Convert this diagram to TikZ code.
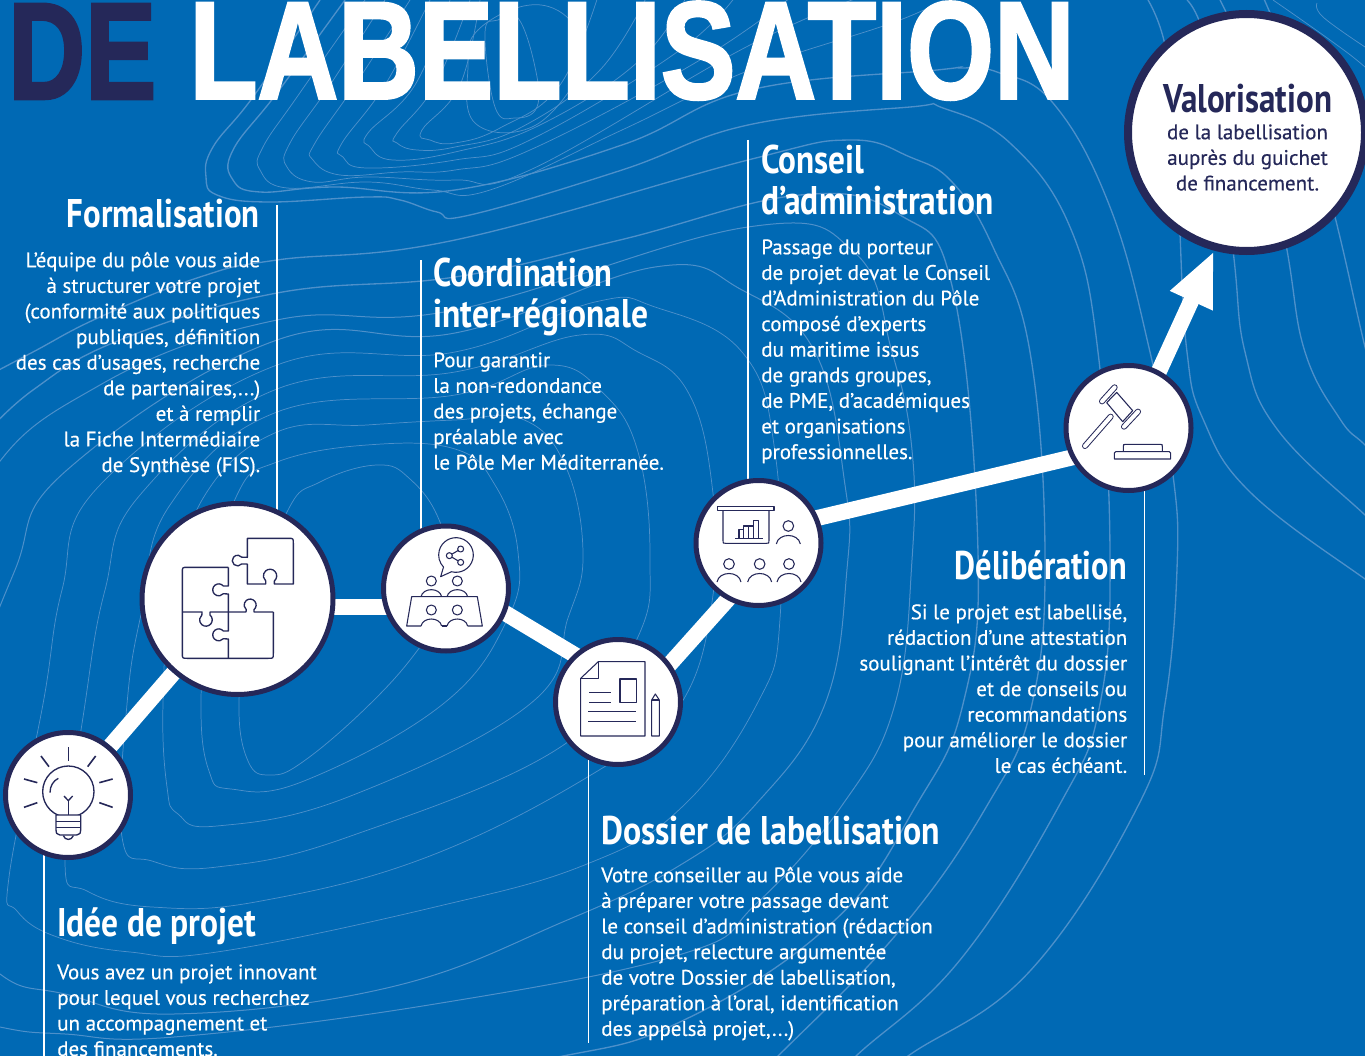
\documentclass[tikz,border=0pt]{standalone}
\usepackage{graphicx}
\usepackage{fontspec}
\setmainfont{PT Sans}
\newfontfamily\bodyf[FakeBold=0.4]{PT Sans}
\newfontfamily\titlef[FakeBold=2.2]{Liberation Sans Bold}
\usetikzlibrary{calc,backgrounds,arrows.meta}
\definecolor{bgblue}{HTML}{0069B4}
\definecolor{navy}{HTML}{252859}
\definecolor{ctc}{HTML}{4D90CA}
\newcommand\fr{\rule{0pt}{14pt}}
\newcommand\hd[2]{\resizebox{\dimexpr #1pt*3/4\relax}{\height}{#2}}
\tikzset{
  x=.75pt,y=-.75pt,
  ct/.style={draw=ctc,line width=.55pt},
  ctm/.style={draw=ctc,line width=.75pt},
  ctb/.style={draw=ctc,line width=1pt},
  guide/.style={draw=white,line width=.8pt},
  link/.style={draw=white,line width=12pt},
  stepc/.style={circle,draw=navy,fill=white,line width=3.75pt,inner sep=0pt},
  bodytext/.style={font=\bodyf\fontsize{15.75}{19.2}\selectfont,inner sep=0pt,text=white},
  bodyl/.style={bodytext,align=left,anchor=north west},
  bodyr/.style={bodytext,align=right,anchor=north east},
  headt/.style={font=\fontsize{30}{36}\selectfont\bfseries,inner sep=0pt,text=white},
  ic/.style={draw=navy,line width=1pt,line join=round},
  z/.style={shift={(#1)},x=.25pt,y=-.25pt},
}
\begin{document}
\begin{tikzpicture}
\useasboundingbox (0,0) rectangle (1365,1056);
% step circles
\node[stepc,minimum size=93.75pt] (c0) at (68,795) {};
\node[stepc,minimum size=143.25pt] (c1) at (237.5,599) {};
\node[stepc,minimum size=93.75pt] (c2) at (446,588.5) {};
\node[stepc,minimum size=93.75pt] (c3) at (618,702) {};
\node[stepc,minimum size=93.75pt] (c4) at (758.5,543) {};
\node[stepc,minimum size=93.75pt] (c5) at (1128.5,428) {};
\node[stepc,minimum size=177.75pt,line width=6pt] (c6) at (1246.5,132.5) {};
\coordinate (g1) at (277,205);
\coordinate (g2) at (421,260);
\coordinate (g3) at (748,140);
\coordinate (g4) at (44,1056);
\coordinate (g5) at (588.5,1043);
\coordinate (g6) at (1144.5,775);
\begin{scope}[on background layer]
\fill[bgblue] (0,0) rectangle (1365,1056);
\begin{scope}
\clip (0,0) rectangle (1365,1056);
% central loops
\draw[ct] plot[smooth cycle,tension=.7] coordinates {(287,512)(320,482)(377,465)(410,479)(440,522)(455,590)(420,647)(370,704)(304,761)(270,775)(248,761)(239,704)(250,620)};
\draw[ct] plot[smooth cycle,tension=.7] coordinates {(237,495)(277,462)(367,445)(455,449)(495,485)(518,552)(508,618)(443,704)(304,781)(231,789)(209,771)(201,704)(210,600)};
\draw[ct] plot[smooth cycle,tension=.7] coordinates {(205,495)(277,432)(367,425)(455,420)(522,419)(565,465)(583,552)(568,618)(530,704)(348,797)(217,826)(178,814)(167,787)(163,704)(172,600)};
\draw[ct] plot[smooth cycle,tension=.7] coordinates {(170,505)(277,412)(455,395)(548,365)(602,392)(638,452)(650,559)(637,639)(565,744)(348,837)(217,867)(152,861)(122,837)(127,704)(142,610)};
\draw[ct] plot[smooth cycle,tension=.7] coordinates {(140,495)(277,389)(455,372)(580,335)(638,352)(688,392)(712,485)(713,595)(682,702)(609,764)(435,854)(261,901)(152,907)(87,891)(65,861)(85,704)(105,590)};
\draw[ct] plot[smooth cycle,tension=.7] coordinates {(100,485)(277,365)(455,352)(595,302)(655,307)(742,352)(775,452)(780,619)(757,704)(682,807)(587,864)(435,907)(217,952)(130,952)(57,937)(17,911)(9,877)(43,704)(62,590)};
\draw[ctm] plot[smooth cycle,tension=.7] coordinates {(67,470)(277,340)(455,333)(655,267)(742,290)(815,352)(845,485)(847,569)(825,704)(756,804)(682,864)(565,921)(391,987)(174,1014)(65,994)(0,974)(-60,900)(-30,704)(15,570)};
\draw[ctm] plot[smooth cycle,tension=.7] coordinates {(100,385)(277,320)(455,310)(748,227)(855,253)(892,352)(912,450)(912,560)(895,704)(843,804)(756,904)(682,954)(435,1004)(174,1037)(65,1034)(0,1027)(-100,1000)(-100,700)(-20,490)};
\draw[ctb] plot[smooth,tension=.7] coordinates {(-20,440)(33,390)(120,340)(277,293)(455,277)(620,240)(800,195)(900,215)(953,290)(978,552)(963,704)(917,804)(834,921)(682,1021)(543,1060)(300,1100)};
\draw[ctb] plot[smooth,tension=.7] coordinates {(-20,380)(33,352)(100,317)(200,277)(277,260)(455,240)(748,160)(850,140)(910,157)(953,183)(993,247)(1030,352)(1045,552)(1032,704)(988,804)(900,930)(778,1056)(740,1090)};
% upper family with tails
\draw[ctb] plot[smooth,tension=.7] coordinates {(320,0)(253,97)(213,147)(206,177)(217,195)(267,202)(367,197)(400,200)(437,212)(470,215)(622,170)(748,125)(910,107)(943,108)(1010,143)(1070,227)(1098,352)(1110,552)(1100,704)(1060,804)(960,960)(856,1056)(800,1110)};
\draw[ctb] plot[smooth,tension=.7] coordinates {(345,0)(277,93)(233,150)(233,180)(260,192)(333,187)(455,190)(622,145)(750,90)(937,70)(960,68)(997,72)(1053,103)(1110,207)(1150,352)(1173,475)(1177,569)(1165,704)(1139,804)(1030,971)(908,1056)(850,1100)};
\draw[ct] plot[smooth,tension=.7] coordinates {(365,0)(297,97)(263,147)(260,170)(287,188)(367,182)(433,190)(490,190)(622,130)(750,70)(900,20)(960,-10)};
\draw[ct] plot[smooth,tension=.7] coordinates {(385,0)(330,85)(290,143)(287,167)(313,182)(367,177)(455,180)(530,170)(750,45)(880,-10)};
\draw[ct] plot[smooth,tension=.7] coordinates {(410,0)(355,85)(315,143)(313,160)(340,175)(400,172)(455,170)(530,150)(700,60)(800,-10)};
\draw[ct] plot[smooth,tension=.7] coordinates {(430,0)(385,85)(342,143)(343,157)(367,168)(455,160)(530,140)(680,50)(740,-10)};
\draw[ct] plot[smooth,tension=.7] coordinates {(450,0)(415,85)(368,133)(370,147)(393,160)(455,152)(540,125)(640,60)(690,-10)};
\draw[ct] plot[smooth,tension=.7] coordinates {(470,0)(435,85)(397,133)(397,143)(417,150)(455,147)(520,128)(600,70)(650,-10)};
\draw[ct] plot[smooth,tension=.7] coordinates {(480,0)(460,85)(422,130)(430,140)(455,143)(500,128)(560,85)(600,-10)};
\draw[ct] plot[smooth cycle,tension=.7] coordinates {(518,18)(535,67)(537,107)(515,118)(495,107)(485,33)(498,20)};
\draw[ct] plot[smooth cycle,tension=.7] coordinates {(478,30)(468,67)(475,123)(532,127)(578,77)(575,53)(570,20)(530,5)};
% right family
\draw[ctb] plot[smooth,tension=.7] coordinates {(1148,0)(1165,45)(1178,140)(1180,233)(1187,352)(1203,419)(1250,492)(1365,579)(1400,600)};
\draw[ctb] plot[smooth,tension=.7] coordinates {(1187,0)(1210,60)(1233,250)(1245,352)(1277,429)(1365,515)(1400,545)};
\draw[ctb] plot[smooth,tension=.7] coordinates {(1220,0)(1260,100)(1287,250)(1305,352)(1340,419)(1365,445)(1400,480)};
\draw[ctb] plot[smooth,tension=.7] coordinates {(1260,-10)(1300,90)(1335,217)(1365,347)(1380,400)};
\draw[ct] plot[smooth,tension=.7] coordinates {(1273,0)(1330,40)(1365,67)(1400,100)};
\draw[ct] plot[smooth,tension=.7] coordinates {(1317,3)(1323,17)(1365,47)};
\end{scope}
% guides
\draw[guide] (g1) -- (g1 |- c1);
\draw[guide] (g2) -- (g2 |- c2);
\draw[guide] (g3) -- (g3 |- c4);
\draw[guide] (g4 |- c0) -- (g4);
\draw[guide] (g5 |- c3) -- (g5);
\draw[guide] (g6 |- c5) -- (g6);
% connectors
\draw[link] (c0) -- (c1);
\draw[link] ($(c1)+(0,7.5)$) -- ($(c2)+(0,18)$);
\draw[link] ($(c2)+(0,-11)$) -- ($(c3)+(0,-21)$);
\draw[link] ($(c3)+(0,20)$) -- ($(c4)+(0,22)$);
\draw[link] ($(c4)+(0,-11)$) -- ($(c5)+(0,16)$);
\coordinate (tip) at ($(c6)+(-32.5,118.5)$);
\draw[link,-{Triangle[length=41pt,width=32pt]}] ($(c5)+(4.5,0)$) -- (tip);
\end{scope}
% bulb
\begin{scope}[z={0,720}]
\draw[ic] (205,215) circle[radius=77];
\draw[ic] (150,218) .. controls (150,198) and (160,182) .. (175,175);
\foreach \a/\b/\c/\d in {205/82/205/122,123/108/147/140,287/108/263/140,72/177/112/188,338/177/298/188,72/262/112/248,338/262/298/248}
  \draw[ic,line width=1.2pt] (\a,\b) -- (\c,\d);
\draw[ic] (192,228) -- (205,242) -- (218,228);
\draw[ic] (205,242) -- (205,285);
\draw[ic,fill=white] (168,285) -- (242,285) -- (242,330) .. controls (242,340) .. (230,345) -- (180,345) .. controls (168,340) .. (168,330) -- cycle;
\draw[ic] (168,305) -- (242,305);
\draw[ic] (168,322) -- (242,322);
\draw[ic] (190,347) .. controls (195,362) and (215,362) .. (220,347);
\end{scope}
% puzzle
\begin{scope}[z={130,490}]
\draw[ic] (295,232) -- (172,232) .. controls (157,232) .. (157,247) -- (157,490) .. controls (157,505) .. (172,505) -- (415,505) .. controls (430,505) .. (430,490) -- (430,366);
\draw[ic] (430,366) -- (372,366) -- (372,359) arc[start angle=50,end angle=-230,radius=18] -- (348,366) -- (240,366) -- (240,375) arc[start angle=-50,end angle=230,radius=19] -- (216,366) -- (157,366);
\draw[ic] (295,232) -- (295,288) -- (280,288) arc[start angle=-40,end angle=-320,radius=18] -- (295,312) -- (295,423) -- (280,423) arc[start angle=-40,end angle=-320,radius=18] -- (295,447) -- (295,505);
\draw[ic] (352,145) -- (475,145) .. controls (490,145) .. (490,160) -- (490,282) -- (433,282) -- (433,273) arc[start angle=50,end angle=-230,radius=20] -- (407,282) -- (352,282) -- (352,222) -- (335,222) arc[start angle=40,end angle=320,radius=16] -- (352,202) -- cycle;
\end{scope}
% meeting
\begin{scope}[z={130,490}]
\draw[ic,line width=.8pt] (932,260) -- (964.5,245.2) arc[start angle=105,end angle=-224,radius=52] -- cycle;
\draw[ic,line width=.8pt] (992,177) -- (958,197) -- (992,217);
\foreach \p in {(958,197),(992,177),(992,217)} \draw[ic,line width=.8pt,fill=white] \p circle[radius=9];
\foreach \h in {904,982} {
  \draw[ic,line width=.8pt] (\h,273) circle[radius=15];
  \draw[ic,line width=.8pt] (\h-31,320) .. controls (\h-25,292) and (\h+25,292) .. (\h+31,320);
  \draw[ic,line width=.8pt] (\h,360) circle[radius=15];
  \draw[ic,line width=.8pt] (\h-31,408) .. controls (\h-25,380) and (\h+25,380) .. (\h+31,408);
}
\draw[ic,line width=.8pt] (873,408) -- (830,408) -- (845,320) -- (1042,320) -- (1057,408) -- (1013,408);
\draw[ic,line width=.8pt] (935,408) -- (951,408);
\end{scope}
% document
\begin{scope}[z={540,470}]
\draw[ic,line width=.8pt] (122,625) -- (175,575) -- (315,575) -- (315,798) -- (122,798) -- cycle;
\draw[ic,line width=.8pt] (122,625) -- (175,625) -- (175,575);
\draw[ic,line width=.8pt] (240,627) rectangle (290,698);
\foreach \a/\b/\c in {147/212/667,147/212/698,144/288/725,144/288/755} \draw[ic,line width=1.1pt] (\a,\c) -- (\b,\c);
\draw[ic,line width=.8pt] (335,798) -- (358,798) -- (358,690) -- (346,672) -- (335,690) -- cycle;
\draw[ic,line width=.8pt] (335,690) -- (358,690);
\end{scope}
% chart
\begin{scope}[z={540,470}]
\draw[ic,line width=.8pt] (533,110) rectangle (702,122);
\draw[ic,line width=.8pt] (549,122) -- (549,212) .. controls (549,220) .. (557,220) -- (679,220) .. controls (687,220) .. (687,212) -- (687,122);
\draw[ic,line width=.8pt] (597,205) -- (597,178) -- (611,178) -- (611,205);
\draw[ic,line width=.8pt] (611,205) -- (611,168) -- (626,168) -- (626,205);
\draw[ic,line width=.8pt] (641,205) -- (641,152) -- (656,152) -- (656,205);
\draw[ic,line width=.8pt] (626,205) -- (626,168) -- (641,168);
\draw[ic,line width=1.1pt] (585,205) -- (668,205);
\foreach \hx/\hy in {745/168,567/282,659/282,747/282} {
  \draw[ic,line width=.8pt] (\hx,\hy) circle[radius=16];
  \draw[ic,line width=.8pt] (\hx-36,\hy+54) .. controls (\hx-30,\hy+20) and (\hx+30,\hy+20) .. (\hx+36,\hy+54);
}
\end{scope}
% gavel
\begin{scope}[z={1050,230}]
\draw[navy,line width=4.5pt,line cap=round] (105,648) -- (182,560);
\draw[white,line width=3pt,line cap=round] (105,648) -- (182,560);
\draw[ic,line width=.8pt,fill=white] (170,518) -- (200,487) -- (248,542) -- (218,575) -- cycle;
\draw[navy,line width=4.5pt,line cap=round] (156,514) -- (194,472);
\draw[white,line width=3pt,line cap=round] (156,514) -- (194,472);
\draw[navy,line width=4.5pt,line cap=round] (222,590) -- (264,545);
\draw[white,line width=3pt,line cap=round] (222,590) -- (264,545);
\draw[ic,line width=.8pt] (220,665) -- (220,650) .. controls (220,643) .. (227,643) -- (330,643) .. controls (337,643) .. (337,650) -- (337,665);
\draw[ic,line width=.8pt] (197,665) -- (358,665) .. controls (362,665) .. (362,669) -- (362,687) -- (193,687) -- (193,669) .. controls (193,665) .. (197,665);
\end{scope}
% title
\node[inner sep=0pt,anchor=south west,text=navy,font=\titlef\fontsize{100}{100}\selectfont] (t1) at (8,99) {\resizebox{111pt}{71pt}{DE}};
\node[inner sep=0pt,anchor=south west,text=white,font=\titlef\fontsize{100}{100}\selectfont] (t2) at (189,100) {\resizebox{664pt}{72.5pt}{LABELLISATION}};
% headings
\node[headt,anchor=base east] (h1) at (260,227) {\hd{193}{Formalisation}};
\node[headt,anchor=base west] (h2a) at (433,286) {\hd{179}{Coordination}};
\node[headt,anchor=base west] (h2b) at (433,327) {\hd{215}{inter-régionale}};
\node[headt,anchor=base west] (h3a) at (761,174) {\hd{103}{Conseil}};
\node[headt,anchor=base west] (h3b) at (761,214) {\hd{232}{d’administration}};
\node[headt,anchor=base east] (h4) at (1127,579) {\hd{172}{Délibération}};
\node[headt,anchor=base west] (h5) at (601,844) {\hd{339}{Dossier de labellisation}};
\node[headt,anchor=base west] (h6) at (57,936) {\hd{199}{Idée de projet}};
\node[headt,anchor=base,text=navy] (h7) at (1247.5,113) {\hd{169}{Valorisation}};
% bodies (first baseline minus 18.67px)
\node[bodyr] (b1) at (260.5,248.3) {\fr L’équipe du pôle vous aide\\à structurer votre projet\\(conformité aux politiques\\publiques, définition\\des cas d’usages, recherche\\de partenaires,...)\\et à remplir\\la Fiche Intermédiaire\\de Synthèse (FIS).};
\node[bodyl] (b2) at (433,348.3) {\fr Pour garantir\\la non-redondance\\des projets, échange\\préalable avec\\le Pôle Mer Méditerranée.};
\node[bodyl] (b3) at (761,235.3) {\fr Passage du porteur\\de projet devat le Conseil\\d’Administration du Pôle\\composé d’experts\\du maritime issus\\de grands groupes,\\de PME, d’académiques\\et organisations\\professionnelles.};
\node[bodyr] (b4) at (1127.5,600.3) {\fr Si le projet est labellisé,\\rédaction d’une attestation\\soulignant l’intérêt du dossier\\et de conseils ou\\recommandations\\pour améliorer le dossier\\le cas échéant.};
\node[bodyl] (b5) at (601,863.3) {\fr Votre conseiller au Pôle vous aide\\à préparer votre passage devant\\le conseil d’administration (rédaction\\du projet, relecture argumentée\\de votre Dossier de labellisation,\\préparation à l’oral, identification\\des appelsà projet,...)};
\node[bodyl] (b6) at (57,960.3) {\fr Vous avez un projet innovant\\pour lequel vous recherchez\\un accompagnement et\\des financements.};
\node[bodytext,text=navy,align=center,anchor=north] (b7) at (1247.5,120.3) {\fr de la labellisation\\auprès du guichet\\de financement.};
\end{tikzpicture}
\end{document}
